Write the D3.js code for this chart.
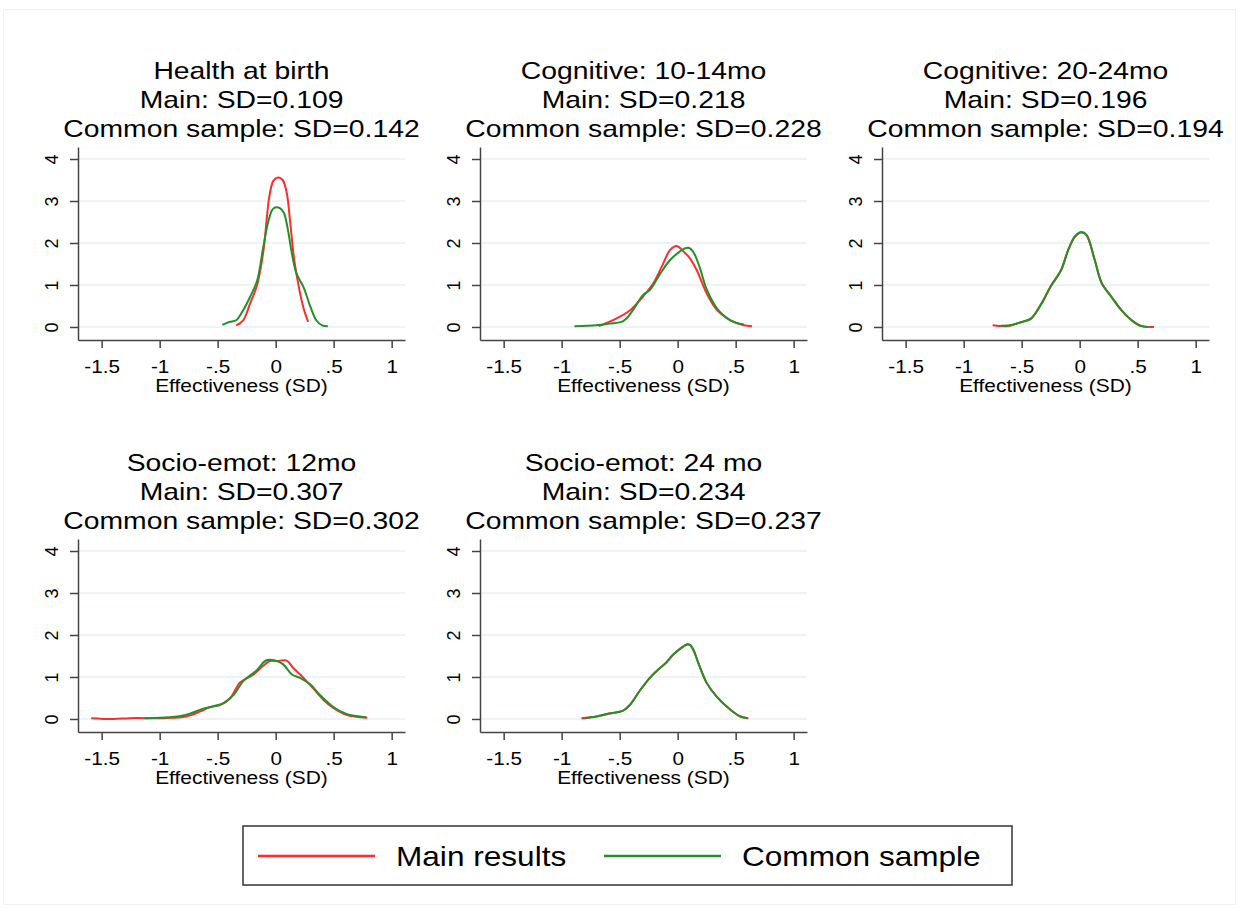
<!DOCTYPE html>
<html>
<head>
<meta charset="utf-8">
<script src="https://cdn.jsdelivr.net/npm/d3@7"></script>
<style>
  body { margin: 0; background: #fff; }
  text { font-family: "Liberation Sans", Arial, sans-serif; fill: #000; }
</style>
</head>
<body>
<svg id="chart" width="1239" height="909"></svg>
<script>
// panel titles
const panelNames = ['Health at birth', 'Cognitive: 10-14mo', 'Cognitive: 20-24mo', 'Socio-emot: 12mo', 'Socio-emot: 24 mo'];
const mainSD = ['0.109', '0.218', '0.196', '0.307', '0.234'];
const commonSD = ['0.142', '0.228', '0.194', '0.302', '0.237'];

const xTicks = [-1.5, -1, -0.5, 0, 0.5, 1];
const yTicks = [0, 1, 2, 3, 4];
const seriesNames = ['Main results', 'Common sample'];

// density curves: [effectiveness, density]
const healthMain = [[-0.34,0.04],[-0.28,0.16],[-0.22,0.56],[-0.16,1.0],[-0.106,1.8],[-0.055,3.1],[-0.02,3.48],[0.02,3.56],[0.06,3.5],[0.095,3.2],[0.125,2.5],[0.16,1.6],[0.2,0.95],[0.24,0.45],[0.28,0.12]];
const healthCommon = [[-0.46,0.05],[-0.4,0.12],[-0.34,0.16],[-0.28,0.4],[-0.22,0.72],[-0.16,1.1],[-0.11,1.85],[-0.06,2.55],[-0.02,2.82],[0.03,2.84],[0.07,2.72],[0.1,2.4],[0.14,1.75],[0.18,1.27],[0.24,0.95],[0.3,0.48],[0.35,0.16],[0.4,0.04],[0.45,0.02]];
const cog10Main = [[-0.68,0.02],[-0.53,0.2],[-0.41,0.4],[-0.3,0.72],[-0.21,1.04],[-0.125,1.51],[-0.067,1.83],[-0.01,1.93],[0.05,1.8],[0.107,1.63],[0.165,1.35],[0.25,0.8],[0.34,0.4],[0.455,0.16],[0.57,0.04],[0.64,0.02]];
const cog10Common = [[-0.89,0.02],[-0.7,0.04],[-0.59,0.08],[-0.47,0.14],[-0.385,0.4],[-0.3,0.76],[-0.24,0.88],[-0.15,1.27],[-0.067,1.59],[0.02,1.8],[0.06,1.87],[0.1,1.88],[0.14,1.76],[0.19,1.42],[0.25,0.9],[0.34,0.44],[0.455,0.16],[0.57,0.06]];
const cog20Main = [[-0.75,0.04],[-0.62,0.02],[-0.5,0.12],[-0.42,0.2],[-0.33,0.56],[-0.25,0.96],[-0.16,1.35],[-0.1,1.83],[-0.04,2.15],[0.014,2.25],[0.058,2.19],[0.13,1.59],[0.19,1.04],[0.275,0.72],[0.36,0.4],[0.45,0.16],[0.54,0.02],[0.64,0.0]];
const cog20Common = [[-0.68,0.03],[-0.6,0.04],[-0.5,0.12],[-0.42,0.2],[-0.33,0.55],[-0.25,0.97],[-0.16,1.36],[-0.1,1.82],[-0.04,2.16],[0.016,2.26],[0.06,2.19],[0.13,1.6],[0.19,1.05],[0.275,0.71],[0.36,0.4],[0.45,0.15],[0.52,0.03],[0.59,0.0]];
const socio12Main = [[-1.59,0.02],[-1.4,0.0],[-1.26,0.02],[-1.13,0.02],[-0.97,0.02],[-0.77,0.06],[-0.65,0.18],[-0.57,0.28],[-0.48,0.33],[-0.39,0.5],[-0.31,0.86],[-0.19,1.06],[-0.11,1.26],[-0.05,1.38],[0.01,1.38],[0.095,1.39],[0.15,1.22],[0.24,0.98],[0.32,0.74],[0.41,0.46],[0.5,0.26],[0.61,0.1],[0.79,0.03]];
const socio12Common = [[-1.13,0.02],[-0.91,0.04],[-0.77,0.1],[-0.65,0.22],[-0.54,0.3],[-0.45,0.38],[-0.36,0.58],[-0.28,0.9],[-0.17,1.14],[-0.08,1.4],[0.01,1.38],[0.065,1.3],[0.14,1.06],[0.21,0.98],[0.3,0.82],[0.38,0.58],[0.5,0.28],[0.61,0.12],[0.78,0.04]];
const socio24Main = [[-0.83,0.02],[-0.7,0.06],[-0.59,0.13],[-0.47,0.2],[-0.41,0.34],[-0.33,0.66],[-0.24,0.98],[-0.15,1.22],[-0.1,1.34],[-0.04,1.53],[0.04,1.71],[0.08,1.77],[0.11,1.75],[0.14,1.62],[0.18,1.32],[0.25,0.86],[0.34,0.52],[0.455,0.22],[0.54,0.06],[0.61,0.02]];
const socio24Common = [[-0.8,0.02],[-0.7,0.06],[-0.59,0.13],[-0.47,0.2],[-0.41,0.34],[-0.33,0.66],[-0.24,0.98],[-0.15,1.22],[-0.1,1.34],[-0.04,1.53],[0.04,1.71],[0.08,1.78],[0.11,1.76],[0.14,1.62],[0.18,1.32],[0.25,0.86],[0.34,0.52],[0.455,0.22],[0.54,0.06],[0.6,0.02]];

const mainCurves = [healthMain, cog10Main, cog20Main, socio12Main, socio24Main];
const commonCurves = [healthCommon, cog10Common, cog20Common, socio12Common, socio24Common];

const colors = ['#ff2b2b', '#23912a'];

const svg = d3.select('#chart');
// faint outer frame of the graph
svg.append('rect').attr('x', 3.5).attr('y', 9.5).attr('width', 1232).attr('height', 895)
  .attr('fill', 'none').attr('stroke', '#f2f2f2');

const plotW = 327, plotH = 193;
const x = d3.scaleLinear().domain([-1.704, 1.115]).range([0, plotW]);
const y = d3.scaleLinear().domain([-0.31, 4.286]).range([plotH, 0]);
const fmtX = d => String(d).replace('0.', '.');

const line = d3.line().x(d => x(d[0])).y(d => y(d[1])).curve(d3.curveCatmullRom);

panelNames.forEach((name, i) => {
  const col = i % 3, row = Math.floor(i / 3);
  const g = svg.append('g').attr('transform', `translate(${78 + col * 402},${147 + row * 392})`);

  // grid
  g.selectAll('line.grid').data(yTicks).join('line')
    .attr('class', 'grid')
    .attr('x1', 0).attr('x2', plotW)
    .attr('y1', d => y(d)).attr('y2', d => y(d))
    .attr('stroke', '#e8f0f2').attr('stroke-width', 1.5);

  // title, three lines
  const titles = [name, `Main: SD=${mainSD[i]}`, `Common sample: SD=${commonSD[i]}`];
  g.selectAll('text.title').data(titles).join('text')
    .attr('class', 'title')
    .attr('text-anchor', 'middle')
    .attr('font-size', 24)
    .attr('transform', (d, k) => `translate(${plotW / 2},${-68 + k * 29}) scale(1.18,1)`)
    .text(d => d);

  // x axis
  const gx = g.append('g').attr('transform', `translate(0,${plotH})`)
    .call(d3.axisBottom(x).tickValues(xTicks).tickFormat(fmtX).tickSize(8).tickSizeOuter(0));
  gx.select('.domain').attr('stroke', '#444').attr('stroke-width', 1.5);
  gx.selectAll('.tick line').attr('stroke', '#444').attr('stroke-width', 1.5);
  gx.selectAll('.tick text')
    .attr('y', null).attr('dy', null)
    .attr('font-size', 18).attr('fill', '#000')
    .attr('transform', 'translate(0,33) scale(1.15,1)');

  // y axis
  const gy = g.append('g')
    .call(d3.axisLeft(y).tickValues(yTicks).tickFormat(d3.format('d')).tickSize(8).tickSizeOuter(0));
  gy.select('.domain').attr('stroke', '#444').attr('stroke-width', 1.5);
  gy.selectAll('.tick line').attr('stroke', '#444').attr('stroke-width', 1.5);
  gy.selectAll('.tick text')
    .attr('x', null).attr('dy', null)
    .attr('text-anchor', 'middle')
    .attr('font-size', 18).attr('fill', '#000')
    .attr('transform', 'translate(-20,0) rotate(-90)');

  g.append('text')
    .attr('text-anchor', 'middle')
    .attr('font-size', 19)
    .attr('transform', `translate(${plotW / 2},${plotH + 52}) scale(1.1,1)`)
    .text('Effectiveness (SD)');

  // curves: main first, common on top
  [mainCurves[i], commonCurves[i]].forEach((c, k) => {
    g.append('path').datum(c)
      .attr('d', line)
      .attr('fill', 'none')
      .attr('stroke', colors[k])
      .attr('stroke-width', 2);
  });
});

// legend
const lg = svg.append('g').attr('transform', 'translate(243,826)');
lg.append('rect').attr('width', 769).attr('height', 59)
  .attr('fill', '#fff').attr('stroke', '#333').attr('stroke-width', 1.5);
const legendX = [15, 361];
seriesNames.forEach((s, k) => {
  lg.append('line')
    .attr('x1', legendX[k]).attr('x2', legendX[k] + 117)
    .attr('y1', 30).attr('y2', 30)
    .attr('stroke', colors[k]).attr('stroke-width', 2.5);
  lg.append('text')
    .attr('font-size', 27)
    .attr('transform', `translate(${legendX[k] + 138},40) scale(1.17,1)`)
    .text(s);
});
</script>
</body>
</html>
